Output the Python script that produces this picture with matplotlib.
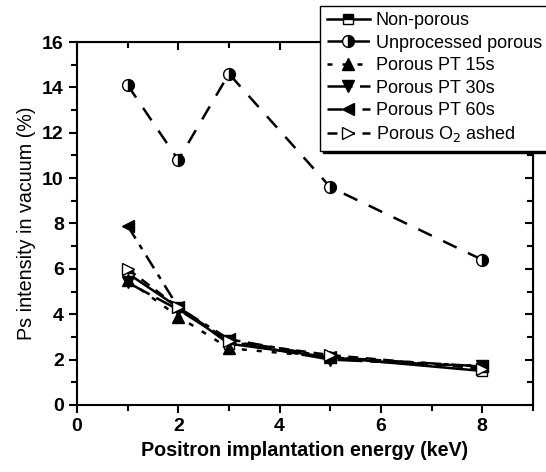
import numpy as np
import matplotlib.pyplot as plt
from matplotlib.ticker import MultipleLocator

plt.rcParams['font.family'] = ['Liberation Sans', 'DejaVu Sans']

energy = [1, 2, 3, 5, 8]
non_porous = [5.8, 4.3, 2.7, 2.1, 1.5]
unprocessed = [14.1, 10.8, 14.6, 9.6, 6.4]
pt15 = [5.5, 3.9, 2.5, 2.1, 1.7]
pt30 = [5.4, 4.2, 2.8, 2.0, 1.7]
pt60 = [7.9, 4.3, 2.9, 2.1, 1.7]
o2_ashed = [6.0, 4.3, 2.8, 2.2, 1.6]

labels = ['Non-porous', 'Unprocessed porous', 'Porous PT 15s',
          'Porous PT 30s', 'Porous PT 60s', 'Porous O$_2$ ashed']

fig = plt.figure(figsize=(5.46, 4.72), dpi=100)
ax = fig.add_axes([0.141, 0.142, 0.835, 0.769])

lw = 1.8
ax.plot(energy, non_porous, '-', color='black', lw=lw, marker='s', ms=7,
        fillstyle='top', mfc='black', markerfacecoloralt='white', mec='black', label=labels[0])
ax.plot(energy, unprocessed, color='black', lw=lw, dashes=(6, 5), marker='o', ms=8.5,
        fillstyle='right', mfc='black', markerfacecoloralt='white', mec='black', label=labels[1])
ax.plot(energy, pt15, color='black', lw=lw, dashes=(2, 4), marker='^', ms=8,
        mfc='black', mec='black', label=labels[2])
ax.plot(energy, pt30, color='black', lw=lw, dashes=(10, 3), marker='v', ms=8,
        mfc='black', mec='black', label=labels[3])
ax.plot(energy, pt60, color='black', lw=lw, dashes=(6, 3, 2, 3), marker='<', ms=8,
        mfc='black', mec='black', label=labels[4])
ax.plot(energy, o2_ashed, color='black', lw=lw, dashes=(4, 3), marker='>', ms=9,
        mfc='white', mec='black', label=labels[5])

ax.set_xlim(0, 9)
ax.set_ylim(0, 16)
ax.xaxis.set_major_locator(MultipleLocator(2))
ax.xaxis.set_minor_locator(MultipleLocator(1))
ax.yaxis.set_major_locator(MultipleLocator(2))
ax.yaxis.set_minor_locator(MultipleLocator(1))

for s in ax.spines.values():
    s.set_linewidth(1.5)
ax.tick_params(which='both', direction='out', width=1.5, labelsize=14)
ax.tick_params(which='major', length=6)
ax.tick_params(which='minor', length=4)
for lab in ax.get_xticklabels() + ax.get_yticklabels():
    lab.set_fontweight('bold')

# mirrored ticks on top/right, pointing inward
axt = ax.secondary_xaxis('top')
axt.xaxis.set_major_locator(MultipleLocator(2))
axt.xaxis.set_minor_locator(MultipleLocator(1))
axt.tick_params(which='both', direction='in', width=1.5, labeltop=False)
axt.tick_params(which='major', length=6)
axt.tick_params(which='minor', length=4)
axr = ax.secondary_yaxis('right')
axr.yaxis.set_major_locator(MultipleLocator(2))
axr.yaxis.set_minor_locator(MultipleLocator(1))
axr.tick_params(which='both', direction='in', width=1.5, labelright=False)
axr.tick_params(which='major', length=6)
axr.tick_params(which='minor', length=4)

ax.set_xlabel('Positron implantation energy (keV)', fontsize=14.2, fontweight='bold')
ax.set_ylabel('Ps intensity in vacuum (%)', fontsize=14.2)

leg = fig.legend(loc='upper right', bbox_to_anchor=(548 / 546, 1 - 6 / 472),
                 bbox_transform=fig.transFigure, fontsize=13, frameon=True,
                 fancybox=False, handlelength=2.4, handletextpad=0.3,
                 labelspacing=0.3, borderpad=0.35, borderaxespad=0,
                 shadow={'color': 'black', 'alpha': 1})
leg.get_frame().set_edgecolor('black')
leg.get_frame().set_linewidth(1.0)

fig.savefig('out.png', dpi=100)
